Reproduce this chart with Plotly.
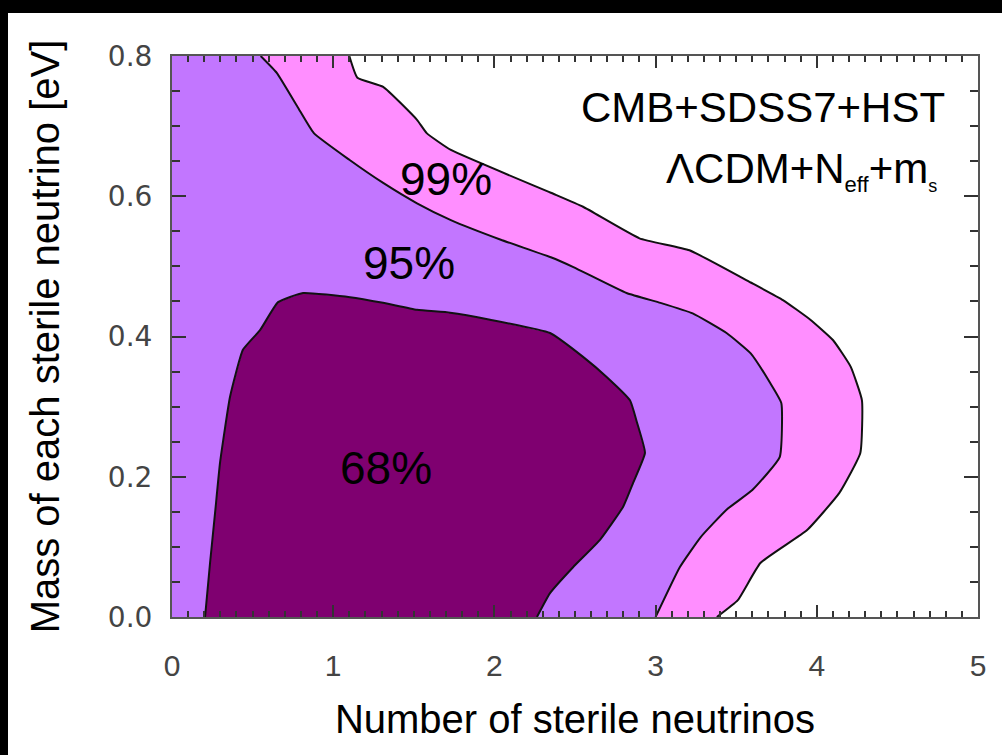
import plotly.graph_objects as go

# Confidence contours in the (N_s, m_s) plane
c99_x = [1.10, 1.15, 1.31, 1.52, 1.58, 1.73, 2.35, 2.55, 2.90, 3.21, 3.59, 3.79,
         3.96, 4.10, 4.21, 4.28, 4.27, 4.14, 3.94, 3.65, 3.51, 3.38]
c99_y = [0.800, 0.769, 0.756, 0.709, 0.690, 0.666, 0.605, 0.585, 0.540, 0.523, 0.477, 0.452,
         0.424, 0.395, 0.357, 0.309, 0.234, 0.177, 0.124, 0.077, 0.024, 0.000]

c95_x = [0.55, 0.65, 0.78, 0.88, 1.10, 1.31, 1.52, 1.73, 2.04, 2.35, 2.49, 2.82,
         3.03, 3.23, 3.44, 3.59, 3.71, 3.78, 3.77, 3.60, 3.44, 3.28, 3.15, 3.00]
c95_y = [0.800, 0.776, 0.727, 0.690, 0.652, 0.619, 0.590, 0.566, 0.538, 0.513, 0.499, 0.462,
         0.448, 0.433, 0.405, 0.376, 0.334, 0.305, 0.228, 0.181, 0.153, 0.114, 0.071, 0.000]

c68_x = [0.205, 0.236, 0.267, 0.298, 0.360, 0.440, 0.546, 0.658, 0.813, 1.104, 1.309, 1.520,
         1.725, 1.973, 2.345, 2.550, 2.698, 2.841, 2.885, 2.934, 2.860, 2.798, 2.655, 2.488,
         2.345, 2.264]
c68_y = [0.000, 0.077, 0.148, 0.220, 0.314, 0.381, 0.409, 0.449, 0.462, 0.456, 0.448, 0.438,
         0.434, 0.424, 0.405, 0.371, 0.342, 0.309, 0.277, 0.234, 0.191, 0.157, 0.110, 0.071,
         0.034, 0.000]

level_labels = ["99%", "95%", "68%"]
label_x = [1.70, 1.47, 1.33]
label_y = [0.625, 0.505, 0.212]

x_ticks = [0, 1, 2, 3, 4, 5]
y_ticks = [0.0, 0.2, 0.4, 0.6, 0.8]
y_ticktext = ["0.0", "0.2", "0.4", "0.6", "0.8"]

PINK = "#FF8EFF"
LAVENDER = "#C276FF"
PLUM = "#7F0070"

fig = go.Figure()

# filled regions (outer first), anchored on the left axis for the open contours
fig.add_trace(go.Scatter(x=[0, 0] + c99_x, y=[0, 0.8] + c99_y, fill="toself",
                         fillcolor=PINK, mode="none", hoverinfo="skip"))
fig.add_trace(go.Scatter(x=[0, 0] + c95_x, y=[0, 0.8] + c95_y, fill="toself",
                         fillcolor=LAVENDER, mode="none", hoverinfo="skip"))
fig.add_trace(go.Scatter(x=c68_x, y=c68_y, fill="toself",
                         fillcolor=PLUM, mode="none", hoverinfo="skip"))

# contour outlines
for cx, cy in [(c99_x, c99_y), (c95_x, c95_y), (c68_x, c68_y)]:
    fig.add_trace(go.Scatter(x=cx, y=cy, mode="lines",
                             line=dict(color="#111111", width=2, shape="spline",
                                       smoothing=0.4),
                             hoverinfo="skip"))

for txt, lx, ly in zip(level_labels, label_x, label_y):
    fig.add_annotation(x=lx, y=ly, text=txt, showarrow=False,
                       font=dict(family="Liberation Sans, Arial", size=46, color="black"))

fig.add_annotation(x=4.81, y=0.726, text="CMB+SDSS7+HST", showarrow=False,
                   xanchor="right", yanchor="middle",
                   font=dict(family="Liberation Sans, Arial", size=42, color="black"))
fig.add_annotation(x=4.76, y=0.636,
                   text="\u039bCDM+N<sub><span style='font-size:22px'>eff</span></sub>"
                        "+m<sub><span style='font-size:18px'>s</span></sub>",
                   showarrow=False, xanchor="right", yanchor="middle",
                   font=dict(family="Liberation Sans, Arial", size=42, color="black"))

# black frame strips along the top and left edges of the image
plot_w, plot_h = 806, 561
fig.add_shape(type="rect", xref="paper", yref="paper",
              x0=-172 / plot_w, x1=1.2, y0=1 + 43 / plot_h, y1=1 + 60 / plot_h,
              fillcolor="black", line_width=0, layer="above")
fig.add_shape(type="rect", xref="paper", yref="paper",
              x0=-172 / plot_w, x1=-164 / plot_w, y0=-0.3, y1=1.2,
              fillcolor="black", line_width=0, layer="above")

axis_common = dict(showgrid=False, zeroline=False, showline=True, linecolor="#555555",
                   linewidth=2, mirror="ticks", ticks="inside", tickcolor="#333333",
                   tickwidth=1.5, layer="above traces")

fig.update_xaxes(range=[0, 5], tickvals=x_ticks, ticklen=12,
                 minor=dict(dtick=0.1, ticks="inside", ticklen=6, tickcolor="#333333",
                            tickwidth=1.5),
                 tickfont=dict(family="Liberation Sans, Arial", size=30, color="#444444"),
                 ticklabelstandoff=21,
                 title=dict(text="Number of sterile neutrinos", standoff=24,
                            font=dict(family="Liberation Sans, Arial", size=40, color="black")),
                 **axis_common)
fig.update_yaxes(range=[0, 0.8], tickvals=y_ticks, ticktext=y_ticktext, ticklen=14,
                 minor=dict(dtick=0.05, ticks="inside", ticklen=8, tickcolor="#333333",
                            tickwidth=1.5),
                 tickfont=dict(family="DejaVu Sans", size=28, color="#444444"),
                 ticklabelstandoff=12,
                 title=dict(text="Mass of each sterile neutrino [eV]", standoff=36,
                            font=dict(family="Liberation Sans, Arial", size=40, color="black")),
                 **axis_common)

fig.update_layout(width=1002, height=755, showlegend=False,
                  margin=dict(l=172, r=24, t=56, b=138, autoexpand=False),
                  paper_bgcolor="white", plot_bgcolor="white")

fig.write_html("out.html")
